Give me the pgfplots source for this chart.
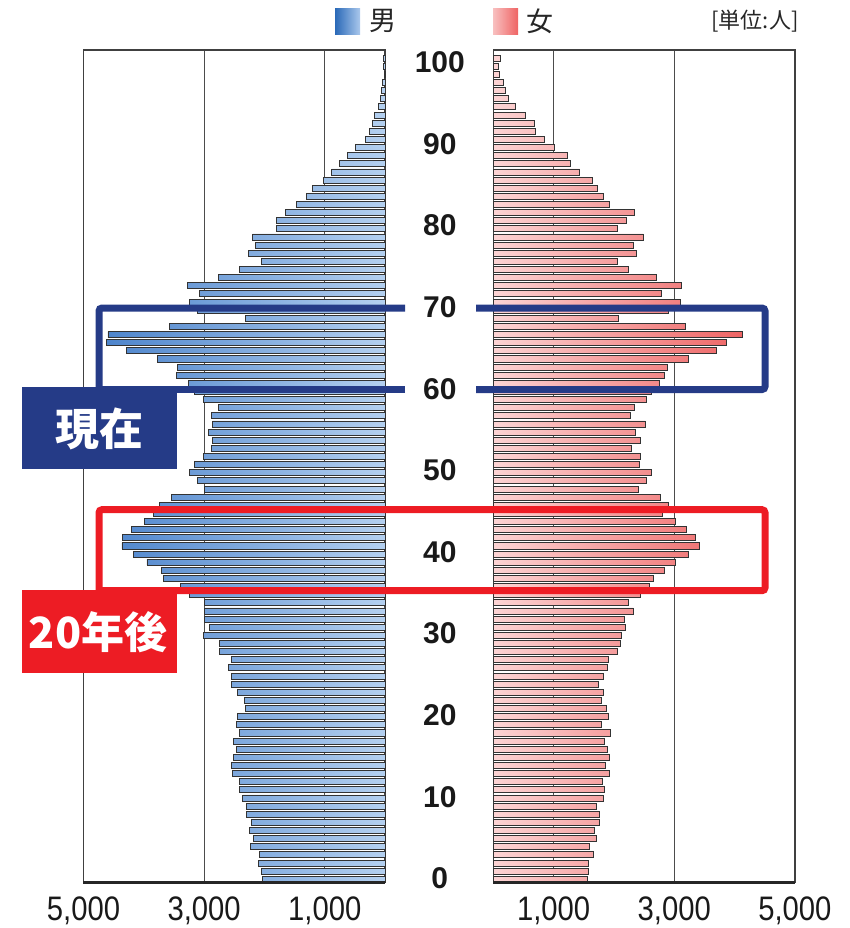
\documentclass[border=0pt]{standalone}
\usepackage{pgfplots}
\usepackage{pgfplotstable}
\pgfplotsset{compat=1.18}
\usepackage{fontspec}
\setmainfont{Liberation Sans}
\newfontfamily\narrowfont[FakeStretch=0.86]{Liberation Sans}
\newfontfamily\cjk{Noto Sans CJK JP}
\definecolor{bluedark}{RGB}{78,133,204}
\definecolor{bluelight}{RGB}{180,208,240}
\definecolor{pinklight}{RGB}{252,212,212}
\definecolor{reddark}{RGB}{238,100,100}
\definecolor{navy}{RGB}{37,59,135}
\definecolor{boxred}{RGB}{237,28,36}
\definecolor{legblue1}{RGB}{42,105,184}
\definecolor{legblue2}{RGB}{170,200,236}
\definecolor{legpink1}{RGB}{248,192,192}
\definecolor{legpink2}{RGB}{239,100,100}

\pgfplotstableread{
age m f
0 2027 1559
1 2049 1576
2 2093 1576
3 2082 1659
4 2231 1587
5 2176 1709
6 2242 1676
7 2209 1759
8 2297 1759
9 2303 1709
10 2358 1819
11 2408 1841
12 2408 1803
13 2529 1924
14 2551 1858
15 2507 1924
16 2468 1891
17 2513 1847
18 2408 1941
19 2463 1797
20 2441 1908
21 2314 1869
22 2330 1797
23 2441 1825
24 2546 1742
25 2546 1825
26 2595 1886
27 2546 1913
28 2739 2057
29 2739 2112
30 3015 2129
31 2910 2184
32 2998 2173
33 2998 2323
34 2998 2240
35 3247 2439
36 3385 2594
37 3667 2649
38 3705 2837
39 3948 3025
40 4175 3235
41 4362 3423
42 4351 3351
43 4197 3202
44 3987 3025
45 3832 2809
46 3744 2898
47 3545 2771
48 2993 2411
49 3110 2540
50 3241 2627
51 3153 2428
52 3010 2433
53 2883 2284
54 2866 2439
55 2927 2356
56 2860 2516
57 2883 2278
58 2761 2339
59 3010 2544
60 3159 2621
61 3252 2754
62 3457 2831
63 3440 2881
64 3766 3235
65 4291 3705
66 4616 3865
67 4594 4136
68 3567 3185
69 2319 2079
70 3114 2898
71 3236 3102
72 3076 2787
73 3280 3119
74 2767 2710
75 2408 2240
76 2054 2052
77 2258 2372
78 2148 2317
79 2198 2489
80 1806 2057
81 1795 2206
82 1646 2339
83 1463 1924
84 1298 1825
85 1198 1725
86 1027 1642
87 884 1432
88 757 1272
89 624 1222
90 497 1012
91 331 852
92 265 697
93 210 686
94 171 536
95 110 365
96 72 249
97 60 194
98 44 166
99 15 100
100 20 83
101 20 116
}\pop

\pgfplotsset{
  pyr/.style={
    scale only axis, anchor=south west,
    width=150.8pt, height=416.35pt,
    xmin=0, xmax=5000, ymin=-0.42, ymax=102,
    xtick={1000,3000,5000}, xticklabels={{1,000},{3,000},{5,000}},
    xticklabel style={font=\narrowfont\fontsize{17}{17}\selectfont, yshift=-3.5pt, text=black!90},
    major tick length=0pt,
    xmajorgrids, grid style={black!70, line width=0.5pt},
    axis line style={black!75, line width=0.7pt},
    clip=false,
  }
}

\begin{document}
\begin{tikzpicture}
% left (male)
\begin{axis}[pyr,
  at={(41.75pt,-441.35pt)},
  x dir=reverse,
  ytick={0.1,10.14,20.18,30.22,40.26,50.3,60.34,70.38,80.42,90.46,100.5},
  yticklabels={0,10,20,30,40,50,60,70,80,90,100},
  yticklabel pos=right,
  yticklabel style={anchor=center, xshift=27.35pt, font=\bfseries\fontsize{15}{15}\selectfont, text=black!90},
]
\addplot[xbar, bar width=0.74, draw=black!80, line width=0.45pt, left color=bluedark, right color=bluelight]
  table[x=m, y=age]{\pop};
\draw[black!85, line width=1.5pt] (rel axis cs:0,0) -- (rel axis cs:1,0);
\end{axis}
% right (female)
\begin{axis}[pyr,
  at={(246.65pt,-441.35pt)},
  ytick=\empty,
]
\addplot[xbar, bar width=0.74, draw=black!80, line width=0.45pt, left color=pinklight, right color=reddark]
  table[x=f, y=age]{\pop};
\draw[black!85, line width=1.5pt] (rel axis cs:0,0) -- (rel axis cs:1,0);
\end{axis}

\begin{scope}[x=0.5pt, y=-0.5pt]
  % blue box (gaps around labels 70 and 60)
  \draw[navy, line width=3.5pt, rounded corners=1.5pt]
    (405,308) -- (99,308) -- (99,420);
  \draw[navy, line width=3.5pt, rounded corners=1.5pt]
    (476,308) -- (765,308) -- (765,389.5) -- (476,389.5);
  \draw[navy, line width=3.5pt] (405,389.5) -- (99,389.5);
  \fill[navy] (22,387) rectangle (177,469);
  \node[text=white, font=\cjk\bfseries\fontsize{22}{22}\selectfont] at (99,429) {現在};
  % red box
  \draw[boxred, line width=3.5pt, rounded corners=1.5pt]
    (99,620) -- (99,509.7) -- (765,509.7) -- (765,590.7) -- (99,590.7);
  \fill[boxred] (22,590) rectangle (177,673);
  \node[text=white, font=\cjk\bfseries\fontsize{21.5}{21.5}\selectfont] at (98,632) {20年後};
  % legend
  \shade[left color=legblue1, right color=legblue2] (335,8) rectangle (360,34);
  \node[font=\cjk\fontsize{13.5}{13.5}\selectfont, text=black!85] at (383,21) {男};
  \shade[left color=legpink1, right color=legpink2] (493,8) rectangle (518,34);
  \node[font=\cjk\fontsize{13.5}{13.5}\selectfont, text=black!85] at (540,21) {女};
  \node[font=\cjk\fontsize{11}{11}\selectfont, text=black!85] at (755,21) {[単位:人]};
\end{scope}

\pgfresetboundingbox
\path (0pt,0pt) rectangle (425pt,-464pt);
\end{tikzpicture}
\end{document}
